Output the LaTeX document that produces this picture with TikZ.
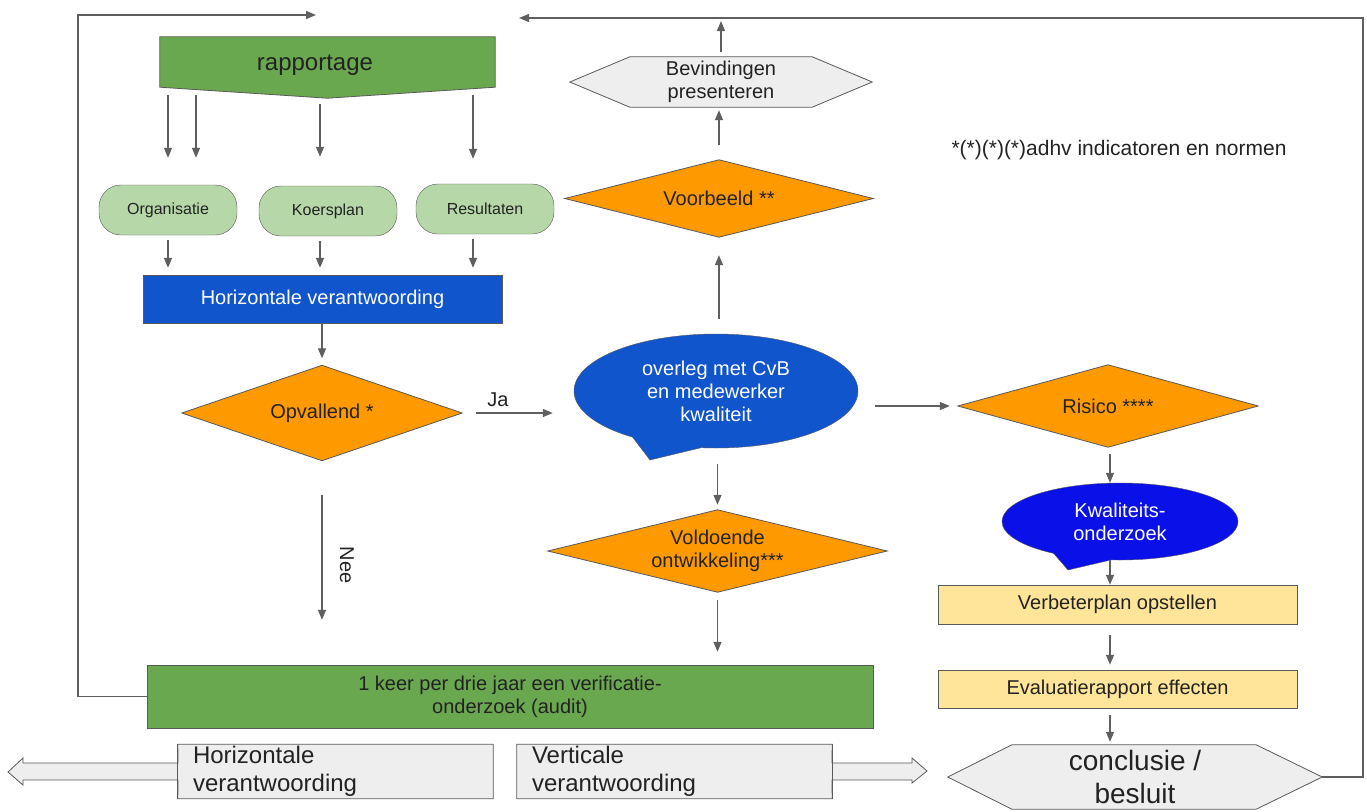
\documentclass[tikz,border=0pt]{standalone}
\usepackage{fontspec}
\setmainfont{Liberation Sans}
\usetikzlibrary{shapes.geometric,shapes.callouts,arrows.meta,calc}
\pgfdeclarelayer{bg}
\pgfsetlayers{bg,main}
\definecolor{arrc}{HTML}{5F5F5F}
\definecolor{bordc}{HTML}{595959}
\definecolor{dgreen}{HTML}{6AA84F}
\definecolor{lgreen}{HTML}{B6D7A8}
\definecolor{hblue}{HTML}{1155CC}
\definecolor{kblue}{HTML}{0A10E8}
\definecolor{orng}{HTML}{FF9900}
\definecolor{yel}{HTML}{FFE599}
\definecolor{lgrey}{HTML}{EEEEEE}
\definecolor{txt}{HTML}{222222}
\begin{document}
\begin{tikzpicture}[x=1pt,y=-1pt,
  every node/.style={text=txt},
  f16/.style={font=\fontsize{16}{19}\selectfont},
  f20/.style={font=\fontsize{20}{23}\selectfont},
  f21/.style={font=\fontsize{21}{24}\selectfont},
  f24/.style={font=\fontsize{24}{28}\selectfont},
  f28/.style={font=\fontsize{28}{33}\selectfont},
  arr/.style={draw=arrc, line width=1.3pt, -{Triangle[length=10pt,width=8pt]}},
  pill/.style={draw=bordc, fill=lgreen, rounded corners=22pt, minimum width=138pt, minimum height=50pt, inner sep=0pt, f16},
  dianode/.style={rectangle, inner sep=0pt, align=center, f20},
  diafill/.style={draw=bordc, fill=orng, line width=0.8pt},
  bubble/.style={ellipse callout, draw=bordc, inner sep=0pt, align=center, text=white, f20, callout pointer arc=30},
  ybox/.style={draw=bordc, fill=yel, minimum width=359pt, inner sep=0pt, f20},
  shp/.style={draw=bordc, line width=0.8pt},
]
\useasboundingbox (0,0) rectangle (1367,811);

% rapportage
\node[minimum width=335pt, minimum height=50pt, inner sep=0pt] (rapbox) at (327.5,62) {};
\begin{pgfonlayer}{bg}
\path[shp, fill=dgreen] (rapbox.north west) -- (rapbox.north east) -- (rapbox.south east) -- ($(rapbox.south)+(0,11)$) -- (rapbox.south west) -- cycle;
\end{pgfonlayer}
\node[f24, inner sep=0pt] (rap) at (315,65) {rapportage};

% pills
\node[pill] (org) at (168,210) {Organisatie};
\node[pill] (kp) at (328,211) {Koersplan};
\node[pill] (res) at (485,209) {Resultaten};

\coordinate (o2) at ($(org.north)+(28,0)$);
\coordinate (k1) at ($(kp.north)+(-8,0)$);
\coordinate (r1) at ($(res.north)+(-12,0)$);
\coordinate (k1s) at ($(kp.south)+(-8,0)$);
\coordinate (r1s) at ($(res.south)+(-12,0)$);

\draw[arr, shorten <=8pt, shorten >=27pt] (org.north |- rapbox.south) -- (org.north);
\draw[arr, shorten <=8pt, shorten >=27pt] (o2 |- rapbox.south) -- (o2);
\draw[arr, shorten <=17pt, shorten >=29pt] (k1 |- rapbox.south) -- (k1);
\draw[arr, shorten <=8pt, shorten >=25pt] (r1 |- rapbox.south) -- (r1);

% horizontale verantwoording
\node[draw=bordc, fill=hblue, minimum width=359pt, minimum height=48pt, inner sep=0pt, f20, text=white] (hv) at (322.5,299) {Horizontale verantwoording};
\draw[arr, shorten <=5pt, shorten >=7pt] (org.south) -- (org.south |- hv.north);
\draw[arr, shorten <=5pt, shorten >=7pt] (k1s) -- (k1s |- hv.north);
\draw[arr, shorten <=5pt, shorten >=7pt] (r1s) -- (r1s |- hv.north);

% diamonds (text nodes; outlines drawn on background layer)
\node[dianode, minimum width=280pt, minimum height=95pt] (opv) at (322,413) {Opvallend *};
\node[dianode, minimum width=308pt, minimum height=77pt] (vb) at (719,198.5) {Voorbeeld **};
\node[dianode, minimum width=300pt, minimum height=82pt] (ris) at (1108,406) {Risico ****};
\node[dianode, minimum width=339pt, minimum height=82pt] (vold) at (717.5,551) {Voldoende\\ontwikkeling***};
\begin{pgfonlayer}{bg}
\foreach \d in {opv,vb,ris,vold}{
  \path[diafill] (\d.north) -- (\d.east) -- (\d.south) -- (\d.west) -- cycle;
}
\end{pgfonlayer}

\draw[arr, shorten >=7pt] (opv.north |- hv.south) -- (opv.north);

% bubble
\node[bubble, fill=hblue, minimum width=284pt, minimum height=114pt, callout absolute pointer={(650,460)}] (bub) at (716,391) {overleg met CvB\\en medewerker\\kwaliteit};

\draw[arr, shorten <=14pt, shorten >=21pt] (opv.east) -- (opv.east -| bub.west) node[pos=0.32, above=6pt, f20, inner sep=0pt] (ja) {Ja};

% audit
\node[draw=bordc, fill=dgreen, minimum width=726pt, minimum height=63pt, inner sep=0pt, align=center, f20] (audit) at (510,696.5) {1 keer per drie jaar een verificatie-\\onderzoek (audit)};
\draw[arr, shorten <=34pt, shorten >=45pt] (opv.south) -- (opv.south |- audit.north);
\node[f20, rotate=-90, inner sep=0pt] (nee) at (347,565) {Nee};

% left loop
\coordinate (lx) at (78,0);
\coordinate (tl) at (316,15);
\draw[arr] (audit.west) -- (audit.west -| lx) |- (tl);

% voorbeeld arrow
\draw[arr, shorten <=15pt, shorten >=18pt] (vb.south |- bub.north) -- (vb.south);

% bevindingen
\node[f20, align=center, minimum width=302pt, minimum height=50pt, inner sep=0pt] (bev) at (721,82) {Bevindingen\\presenteren};
\begin{pgfonlayer}{bg}
\path[shp, fill=lgrey] (bev.west) -- ($(bev.north west)+(60,0)$) -- ($(bev.north east)+(-60,0)$) -- (bev.east) -- ($(bev.south east)+(-60,0)$) -- ($(bev.south west)+(60,0)$) -- cycle;
\end{pgfonlayer}
\draw[arr, shorten <=15pt, shorten >=3pt] (vb.north) -- (vb.north |- bev.south);

\coordinate (rx) at (1363,0);
\coordinate (tr) at (519,18);
\draw[arr, shorten <=5pt, shorten >=3pt] (bev.north) -- (bev.north |- tr);

% risico
\draw[arr, shorten <=17pt, shorten >=8pt] (bub.east |- ris.west) -- (ris.west);

% kwaliteitsonderzoek
\node[bubble, fill=kblue, minimum width=236pt, minimum height=77pt, callout absolute pointer={(1068,570)}] (kw) at (1120,521.5) {Kwaliteits-\\onderzoek};
\coordinate (cx) at (1110,0);
\draw[arr, shorten <=7pt] (cx |- ris.south) -- (cx |- kw.north);

\node[ybox, minimum height=39pt] (verb) at (1117.5,604.5) {Verbeterplan opstellen};
\draw[arr] (cx |- kw.south) -- (cx |- verb.north);
\node[ybox, minimum height=38pt] (eva) at (1117.5,689) {Evaluatierapport effecten};
\draw[arr, shorten <=11pt, shorten >=5pt] (cx |- verb.south) -- (cx |- eva.north);

% conclusie
\node[f28, align=center, minimum width=374pt, minimum height=64pt, inner sep=0pt] (concl) at (1135,777) {conclusie /\\besluit};
\begin{pgfonlayer}{bg}
\path[shp, fill=lgrey] (concl.west) -- ($(concl.north west)+(64,0)$) -- ($(concl.north east)+(-66,0)$) -- (concl.east) -- ($(concl.south east)+(-66,0)$) -- ($(concl.south west)+(64,0)$) -- cycle;
\end{pgfonlayer}
\draw[arr, shorten <=7pt, shorten >=3pt] (cx |- eva.south) -- (cx |- concl.north);
\draw[arr] (concl.east) -- (concl.east -| rx) |- (tr);

% voldoende arrows
\draw[arr, shorten <=16pt, shorten >=5pt] (vold.north |- bub.south) -- (vold.north);
\draw[arr, shorten <=8pt, shorten >=13pt] (vold.south) -- (vold.south |- audit.north);

% note
\node[f21] (note) at (1119,150) {*(*)(*)(*)adhv indicatoren en normen};

% block arrows
\node[f24, align=left, minimum width=315pt, minimum height=54pt, inner sep=0pt, text width=285pt] (hvb) at (335.5,771.5) {Horizontale\\verantwoording};
\node[f24, align=left, minimum width=315pt, minimum height=54pt, inner sep=0pt, text width=285pt] (vvb) at (674.5,771.5) {Verticale\\verantwoording};
\begin{pgfonlayer}{bg}
\path[shp, fill=lgrey] (hvb.north east) -- (hvb.north west) -- (178,763) -- (23,763) -- (23,758) -- (8,772) -- (23,785) -- (23,780) -- (178,780) -- (hvb.south west) -- (hvb.south east) -- cycle;
\draw[shp] (hvb.north west) -- (hvb.south west);
\path[shp, fill=lgrey] (vvb.north west) -- (vvb.north east) -- (832,763) -- (912,763) -- (912,758) -- (927,771) -- (912,783) -- (912,780) -- (832,780) -- (vvb.south east) -- (vvb.south west) -- cycle;
\draw[shp] (vvb.north east) -- (vvb.south east);
\end{pgfonlayer}
\end{tikzpicture}
\end{document}
